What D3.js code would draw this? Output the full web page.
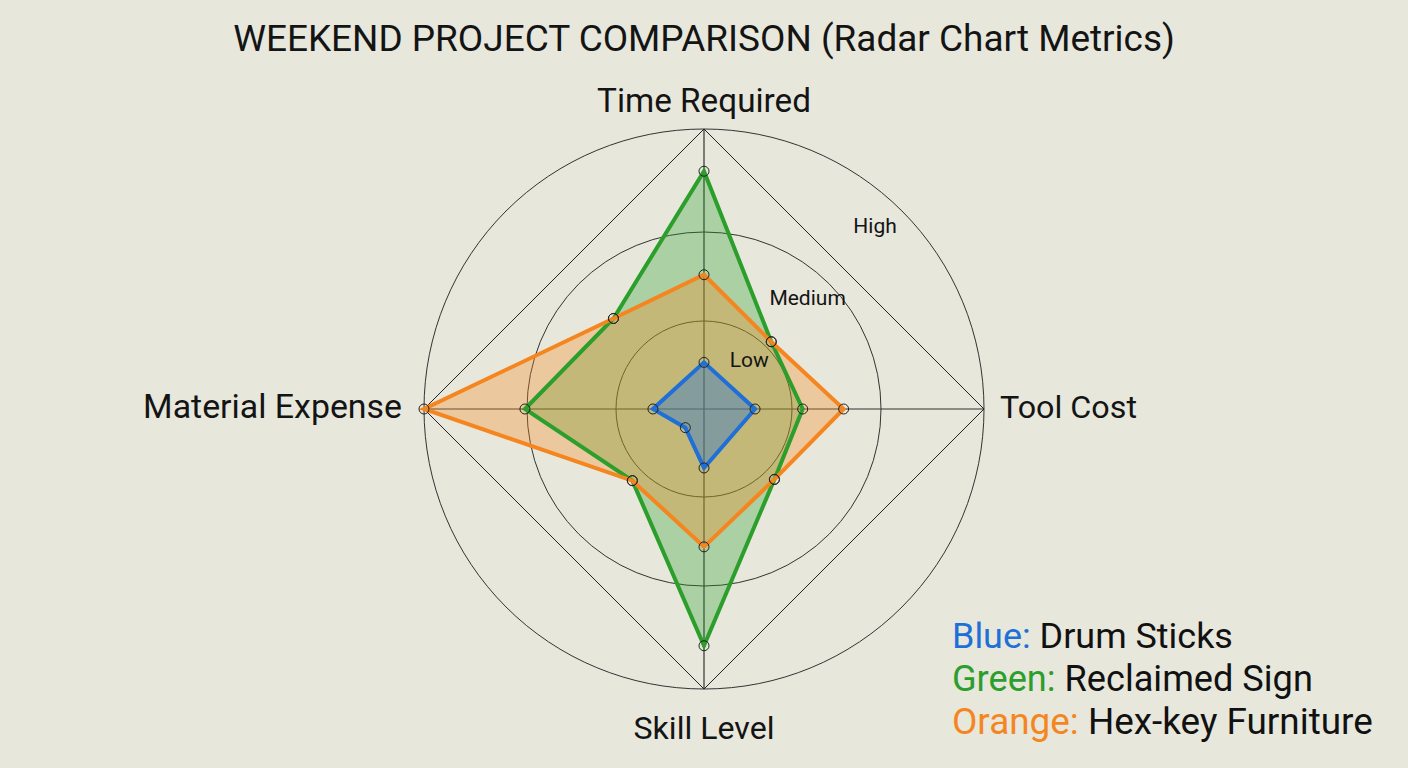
<!DOCTYPE html>
<html>
<head>
<meta charset="utf-8">
<script src="https://cdn.jsdelivr.net/npm/d3@7"></script>
<style>
  html, body { margin: 0; padding: 0; background: #e7e7dc; }
  svg { display: block; }
  text { font-family: Roboto, "Noto Sans", sans-serif; fill: #141414; }
</style>
</head>
<body>
<svg id="chart" width="1408" height="768"></svg>
<script>
// ---------------- data ----------------
const title = "WEEKEND PROJECT COMPARISON (Radar Chart Metrics)";
const axes = ["Time Required", "", "Tool Cost", "", "Skill Level", "", "Material Expense", ""];
const levels = [1, 2, 3];
const levelLabels = ["Low", "Medium", "High"];
const seriesNames = ["Reclaimed Sign", "Hex-key Furniture", "Drum Sticks"];
const seriesColorNames = ["Green", "Orange", "Blue"];
const greenValues  = [2.59, 1.08, 1.12, 1.13, 2.58, 1.15, 2.02, 1.45];
const orangeValues = [1.52, 1.08, 1.58, 1.13, 1.56, 1.15, 3.00, 1.45];
const blueValues   = [0.53, null, 0.58, null, 0.67, 0.30, 0.58, null];
const legendOrder = [2, 0, 1];

// ---------------- layout ----------------
const W = 1408, H = 768;
const cx = 704, cy = 409;
const colors = { Green: "#2b9e2b", Orange: "#f5861f", Blue: "#1f6fd8" };
const svg = d3.select("#chart");
svg.append("rect").attr("width", W).attr("height", H).attr("fill", "#e7e7dc");

const r = d3.scaleLinear().domain([0, 1, 2, 3]).range([0, 88, 177, 280]);
const angle = d3.scaleLinear().domain([0, axes.length]).range([0, 2 * Math.PI]);
const g = svg.append("g").attr("transform", `translate(${cx},${cy})`);

function pt(i, v) {
  const a = angle(i), rr = r(v);
  return [rr * Math.sin(a), -rr * Math.cos(a)];
}

// rings
g.selectAll("circle.ring").data(levels).join("circle")
  .attr("class", "ring").attr("r", d => r(d))
  .attr("fill", "none").attr("stroke", "#333").attr("stroke-width", 1);

// main axes (named)
const mainIdx = axes.map((a, i) => i).filter(i => axes[i] !== "");
g.selectAll("line.spoke").data(mainIdx).join("line")
  .attr("class", "spoke")
  .attr("x1", 0).attr("y1", 0)
  .attr("x2", i => pt(i, 3)[0]).attr("y2", i => pt(i, 3)[1])
  .attr("stroke", "#333").attr("stroke-width", 1.2);

// diamond joining the outer vertices
g.append("path")
  .attr("d", d3.line()(mainIdx.map(i => pt(i, 3))) + "Z")
  .attr("fill", "none").attr("stroke", "#222").attr("stroke-width", 1);

// series
const seriesData = [
  { name: "Green", values: greenValues },
  { name: "Orange", values: orangeValues },
  { name: "Blue", values: blueValues }
];
const line = d3.line();
const ptsOf = s => s.values.map((v, i) => v == null ? null : pt(i, v)).filter(p => p);
seriesData.forEach(s => {
  g.append("path")
    .attr("d", line(ptsOf(s)) + "Z")
    .attr("fill", colors[s.name]).attr("fill-opacity", s.name === "Blue" ? 0.38 : 0.32)
    .attr("stroke", "none");
});
seriesData.forEach(s => {
  g.append("path")
    .attr("d", line(ptsOf(s)) + "Z")
    .attr("fill", "none")
    .attr("stroke", colors[s.name]).attr("stroke-width", 4)
    .attr("stroke-linejoin", "miter");
});
seriesData.forEach(s => {
  g.selectAll(null).data(ptsOf(s)).join("circle")
    .attr("cx", d => d[0]).attr("cy", d => d[1]).attr("r", 5)
    .attr("fill", "none").attr("stroke", "#222").attr("stroke-width", 1);
});

// ring labels (on top)
levels.forEach((lv, k) => {
  const rr = r(lv) - 18 - r(lv) * 0.04;
  const a = 43 * Math.PI / 180;
  g.append("text")
    .attr("x", rr * Math.sin(a)).attr("y", -rr * Math.cos(a))
    .attr("text-anchor", "middle").attr("dominant-baseline", "central")
    .attr("font-size", 21).text(levelLabels[k]);
});

// axis labels
function fit(sel, width) {
  const n = sel.node();
  const fs = +sel.attr("font-size");
  const w = n.getComputedTextLength();
  sel.attr("font-size", fs * width / w);
}
const labelSpec = {
  0: { dx: 0, dy: -17, anchor: "middle", w: 214 },
  2: { dx: 16, dy: 9, anchor: "start", w: 137 },
  4: { dx: 0, dy: 50, anchor: "middle", w: 141 },
  6: { dx: -22, dy: 9, anchor: "end", w: 259 }
};
mainIdx.forEach(i => {
  const p = pt(i, 3), sp = labelSpec[i];
  const t = g.append("text")
    .attr("x", p[0] + sp.dx).attr("y", p[1] + sp.dy)
    .attr("text-anchor", sp.anchor).attr("font-size", 32).text(axes[i]);
  fit(t, sp.w);
});

// title
const tt = svg.append("text").attr("x", 704).attr("y", 51)
  .attr("text-anchor", "middle").attr("font-size", 34).text(title);
fit(tt, 942);

// legend
const legendY = [648, 691, 734];
const legendW = [281, 361, 421];
legendOrder.forEach((si, k) => {
  const cname = seriesColorNames[si];
  const t = svg.append("text").attr("x", 952).attr("y", legendY[k]).attr("font-size", 32);
  t.append("tspan").attr("fill", colors[cname]).text(cname + ": ");
  t.append("tspan").attr("fill", "#111").text(seriesNames[si]);
  fit(t, legendW[k]);
});
</script>
</body>
</html>
